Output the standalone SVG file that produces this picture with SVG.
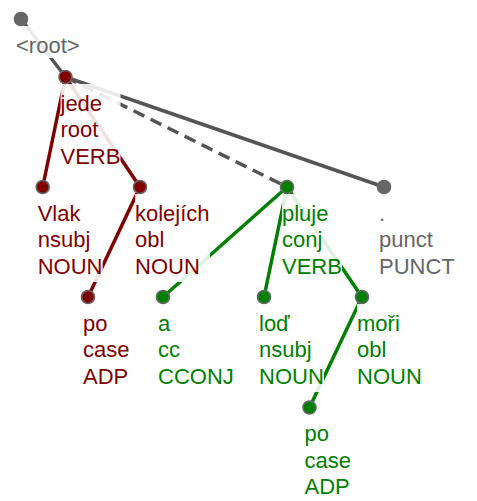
<svg xmlns="http://www.w3.org/2000/svg" width="477" height="501" viewBox="0 0 477 501">
<style>
.e{fill:none;stroke-width:3.5;stroke-linecap:butt}
.r{stroke:#800000}.g{stroke:#008000}.k{stroke:#555}
.d{stroke-dasharray:12,7}
.bx{fill:#fff;fill-opacity:0.88}
.n{stroke:#666;stroke-width:1.6}
text{font-family:"Liberation Sans",Arial,sans-serif;font-size:22px}
.tr{fill:#800000}.tg{fill:#008000}.tk{fill:#666}
</style>
<rect width="477" height="501" fill="#fff"/>
<g id="connectors">
<line class="e k" x1="21" y1="19" x2="65.5" y2="77"/>
<line class="e r" x1="65.5" y1="77" x2="42.7" y2="187"/>
<line class="e r" x1="65.5" y1="77" x2="140" y2="187"/>
<line class="e r" x1="140" y1="187" x2="88" y2="297"/>
<line class="e k d" x1="65.5" y1="77" x2="287" y2="187"/>
<line class="e k" x1="65.5" y1="77" x2="384" y2="187"/>
<line class="e g" x1="287" y1="187" x2="163" y2="297"/>
<line class="e g" x1="287" y1="187" x2="264" y2="297"/>
<line class="e g" x1="287" y1="187" x2="362" y2="297"/>
<line class="e g" x1="362" y1="297" x2="309.5" y2="407.5"/>
</g>
<g id="node-root">
<rect class="bx" x="16" y="26" width="64" height="32"/>
<circle class="n" cx="21" cy="19" r="6.5" fill="#666"/>
<text class="tk" x="16" y="52.5">&lt;root&gt;</text>
</g>
<g id="node-jede">
<rect class="bx" x="60.5" y="84" width="60" height="88"/>
<circle class="n" cx="65.5" cy="77" r="6.5" fill="#800000"/>
<text class="tr" x="60.5" y="110.5">jede</text>
<text class="tr" x="60.5" y="137">root</text>
<text class="tr" x="60.5" y="163.5">VERB</text>
</g>
<g id="node-vlak">
<rect class="bx" x="37.7" y="194" width="65" height="88"/>
<circle class="n" cx="42.7" cy="187" r="6.5" fill="#800000"/>
<text class="tr" x="37.7" y="220.5">Vlak</text>
<text class="tr" x="37.7" y="247">nsubj</text>
<text class="tr" x="37.7" y="273.5">NOUN</text>
</g>
<g id="node-kolejich">
<rect class="bx" x="135" y="194" width="75" height="88"/>
<circle class="n" cx="140" cy="187" r="6.5" fill="#800000"/>
<text class="tr" x="135" y="220.5">kolejích</text>
<text class="tr" x="135" y="247">obl</text>
<text class="tr" x="135" y="273.5">NOUN</text>
</g>
<g id="node-po1">
<rect class="bx" x="83" y="304" width="47" height="88"/>
<circle class="n" cx="88" cy="297" r="6.5" fill="#800000"/>
<text class="tr" x="83" y="330.5">po</text>
<text class="tr" x="83" y="357">case</text>
<text class="tr" x="83" y="383.5">ADP</text>
</g>
<g id="node-a">
<rect class="bx" x="158" y="304" width="76" height="88"/>
<circle class="n" cx="163" cy="297" r="6.5" fill="#008000"/>
<text class="tg" x="158" y="330.5">a</text>
<text class="tg" x="158" y="357">cc</text>
<text class="tg" x="158" y="383.5">CCONJ</text>
</g>
<g id="node-pluje">
<rect class="bx" x="282" y="194" width="60" height="88"/>
<circle class="n" cx="287" cy="187" r="6.5" fill="#008000"/>
<text class="tg" x="282" y="220.5">pluje</text>
<text class="tg" x="282" y="247">conj</text>
<text class="tg" x="282" y="273.5">VERB</text>
</g>
<g id="node-punct">
<rect class="bx" x="379" y="194" width="76" height="88"/>
<circle class="n" cx="384" cy="187" r="6.5" fill="#666"/>
<text class="tk" x="379" y="220.5">.</text>
<text class="tk" x="379" y="247">punct</text>
<text class="tk" x="379" y="273.5">PUNCT</text>
</g>
<g id="node-lod">
<rect class="bx" x="259" y="304" width="65" height="88"/>
<circle class="n" cx="264" cy="297" r="6.5" fill="#008000"/>
<text class="tg" x="259" y="330.5">loď</text>
<text class="tg" x="259" y="357">nsubj</text>
<text class="tg" x="259" y="383.5">NOUN</text>
</g>
<g id="node-mori">
<rect class="bx" x="357" y="304" width="65" height="88"/>
<circle class="n" cx="362" cy="297" r="6.5" fill="#008000"/>
<text class="tg" x="357" y="330.5">moři</text>
<text class="tg" x="357" y="357">obl</text>
<text class="tg" x="357" y="383.5">NOUN</text>
</g>
<g id="node-po2">
<rect class="bx" x="304.5" y="414.5" width="47" height="86"/>
<circle class="n" cx="309.5" cy="407.5" r="6.5" fill="#008000"/>
<text class="tg" x="304.5" y="441">po</text>
<text class="tg" x="304.5" y="467.5">case</text>
<text class="tg" x="304.5" y="494">ADP</text>
</g>
</svg>
